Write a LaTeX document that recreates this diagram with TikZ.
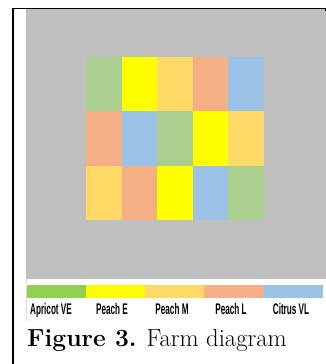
\documentclass[tikz,border=0pt]{standalone}
\usepackage{fontspec}
\newfontfamily\legfont{Liberation Sans}
\definecolor{bggrey}{HTML}{BFBFBF}
\definecolor{cgreen}{HTML}{A9D08E}
\definecolor{cyellow}{HTML}{FFFF00}
\definecolor{cgold}{HTML}{FFD966}
\definecolor{csalmon}{HTML}{F4B084}
\definecolor{cblue}{HTML}{9BC2E6}
\definecolor{lgreen}{HTML}{92D050}
\tikzset{
  legtext/.style={font=\legfont\bfseries\fontsize{15.4}{16}\selectfont, xscale=0.53, transform shape, inner sep=0pt, anchor=base},
  frameline/.style={line width=1.8pt, black}
}
\begin{document}
\begin{tikzpicture}[x=1pt,y=-1pt]
\useasboundingbox (0,0) rectangle (326,364);
% background grey field
\fill[bggrey] (26,9) rectangle (326,279);
% frame
\draw[frameline] (13,8.5) -- (13,364);
\draw[line width=1.4pt] (12,8.5) -- (326,8.5);
\draw[line width=1.2pt] (325.4,8) -- (325.4,11);
\draw[gray!25, line width=0.6pt] (26.3,279) -- (26.3,321);
% grid of plots
\foreach \r/\row in {0/{cgreen,cyellow,cgold,csalmon,cblue},
                     1/{csalmon,cblue,cgreen,cyellow,cgold},
                     2/{cgold,csalmon,cyellow,cblue,cgreen}} {
  \foreach \c [count=\i from 0] in \row {
    \fill[\c] ({86+\i*35.6},{57.3+\r*54.1}) rectangle ({86+(\i+1)*35.6},{57.3+(\r+1)*54.1});
  }
}
% legend bar
\fill[lgreen]  (27,285) rectangle (86,298);
\fill[cyellow] (86,285) rectangle (145,298);
\fill[cgold]   (145,285) rectangle (204,298);
\fill[csalmon] (204,285) rectangle (264,298);
\fill[cblue]   (264,285) rectangle (323,298);
% legend labels
\node[legtext] (l1) at (51,314.3) {Apricot VE};
\node[legtext] (l2) at (112,314.3) {Peach E};
\node[legtext] (l3) at (172,314.3) {Peach M};
\node[legtext] (l4) at (231,314.3) {Peach L};
\node[legtext] (l5) at (291,314.3) {Citrus VL};
% caption
\node[anchor=base west, inner sep=0pt, font=\fontsize{24.7}{26}\selectfont] (cap) at (27,346) {\textbf{Figure 3.} Farm diagram};
\end{tikzpicture}
\end{document}
